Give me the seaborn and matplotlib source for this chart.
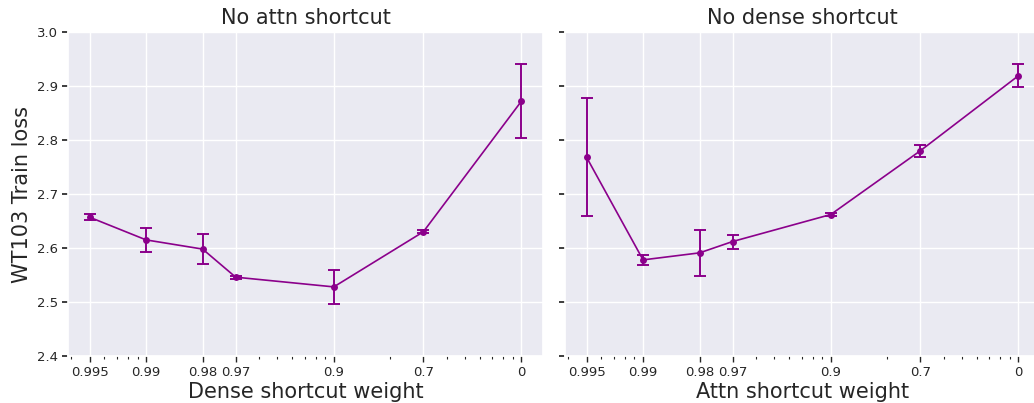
import numpy as np
import matplotlib
matplotlib.use("Agg")
import matplotlib.pyplot as plt
from matplotlib.ticker import FixedLocator, FixedFormatter, LogLocator, NullFormatter
import seaborn as sns

# shortcut weights (x axis is log scale of 1 - weight)
weights = [0.995, 0.99, 0.98, 0.97, 0.9, 0.7, 0]
weight_labels = ["0.995", "0.99", "0.98", "0.97", "0.9", "0.7", "0"]

# left panel: no attn shortcut, varying dense shortcut weight
no_attn_loss = [2.657, 2.615, 2.598, 2.546, 2.528, 2.630, 2.872]
no_attn_err = [0.006, 0.022, 0.028, 0.003, 0.032, 0.003, 0.068]

# right panel: no dense shortcut, varying attn shortcut weight
no_dense_loss = [2.768, 2.578, 2.591, 2.612, 2.662, 2.780, 2.919]
no_dense_err = [0.109, 0.009, 0.042, 0.013, 0.002, 0.011, 0.021]

sns.set_theme(style="darkgrid", rc={
    "xtick.bottom": True, "ytick.left": True,
    "xtick.major.size": 4, "ytick.major.size": 4,
    "xtick.minor.size": 2.5, "xtick.minor.visible": True,
    "xtick.major.width": 1, "xtick.minor.width": 0.8,
})

color = "#8b008b"
x = 1 - np.array(weights)

fig = plt.figure(figsize=(10.34, 4.03), dpi=100)
ax1 = fig.add_axes([0.0658, 0.1166, 0.4594, 0.804])
ax2 = fig.add_axes([0.5464, 0.1166, 0.4594, 0.804], sharey=ax1)

panels = [
    (ax1, no_attn_loss, no_attn_err, "No attn shortcut", "Dense shortcut weight"),
    (ax2, no_dense_loss, no_dense_err, "No dense shortcut", "Attn shortcut weight"),
]

for ax, loss, err, title, xlabel in panels:
    ax.set_xscale("log")
    sns.lineplot(x=x, y=loss, marker="o", color=color, linewidth=1.2,
                 markersize=5, markeredgewidth=0, ax=ax)
    ax.errorbar(x, loss, yerr=err, fmt="none", ecolor=color,
                elinewidth=1.4, capsize=4, capthick=1.4)
    ax.xaxis.set_major_locator(FixedLocator(x))
    ax.xaxis.set_major_formatter(FixedFormatter(weight_labels))
    ax.xaxis.set_minor_locator(LogLocator(base=10, subs=np.arange(2, 10)))
    ax.xaxis.set_minor_formatter(NullFormatter())
    ax.set_title(title, fontsize=15)
    ax.set_xlabel(xlabel, fontsize=15, labelpad=2)
    ax.tick_params(axis="both", labelsize=9.5, pad=3)
    ax.grid(True, which="major", color="white", linewidth=1)
    ax.grid(False, which="minor")

ax1.set_ylim(2.4, 3.0)
ax1.set_yticks([2.4, 2.5, 2.6, 2.7, 2.8, 2.9, 3.0])
ax1.set_ylabel("WT103 Train loss", fontsize=15)
plt.setp(ax2.get_yticklabels(), visible=False)
ax2.set_ylabel("")

fig.savefig("out.png", dpi=100)
